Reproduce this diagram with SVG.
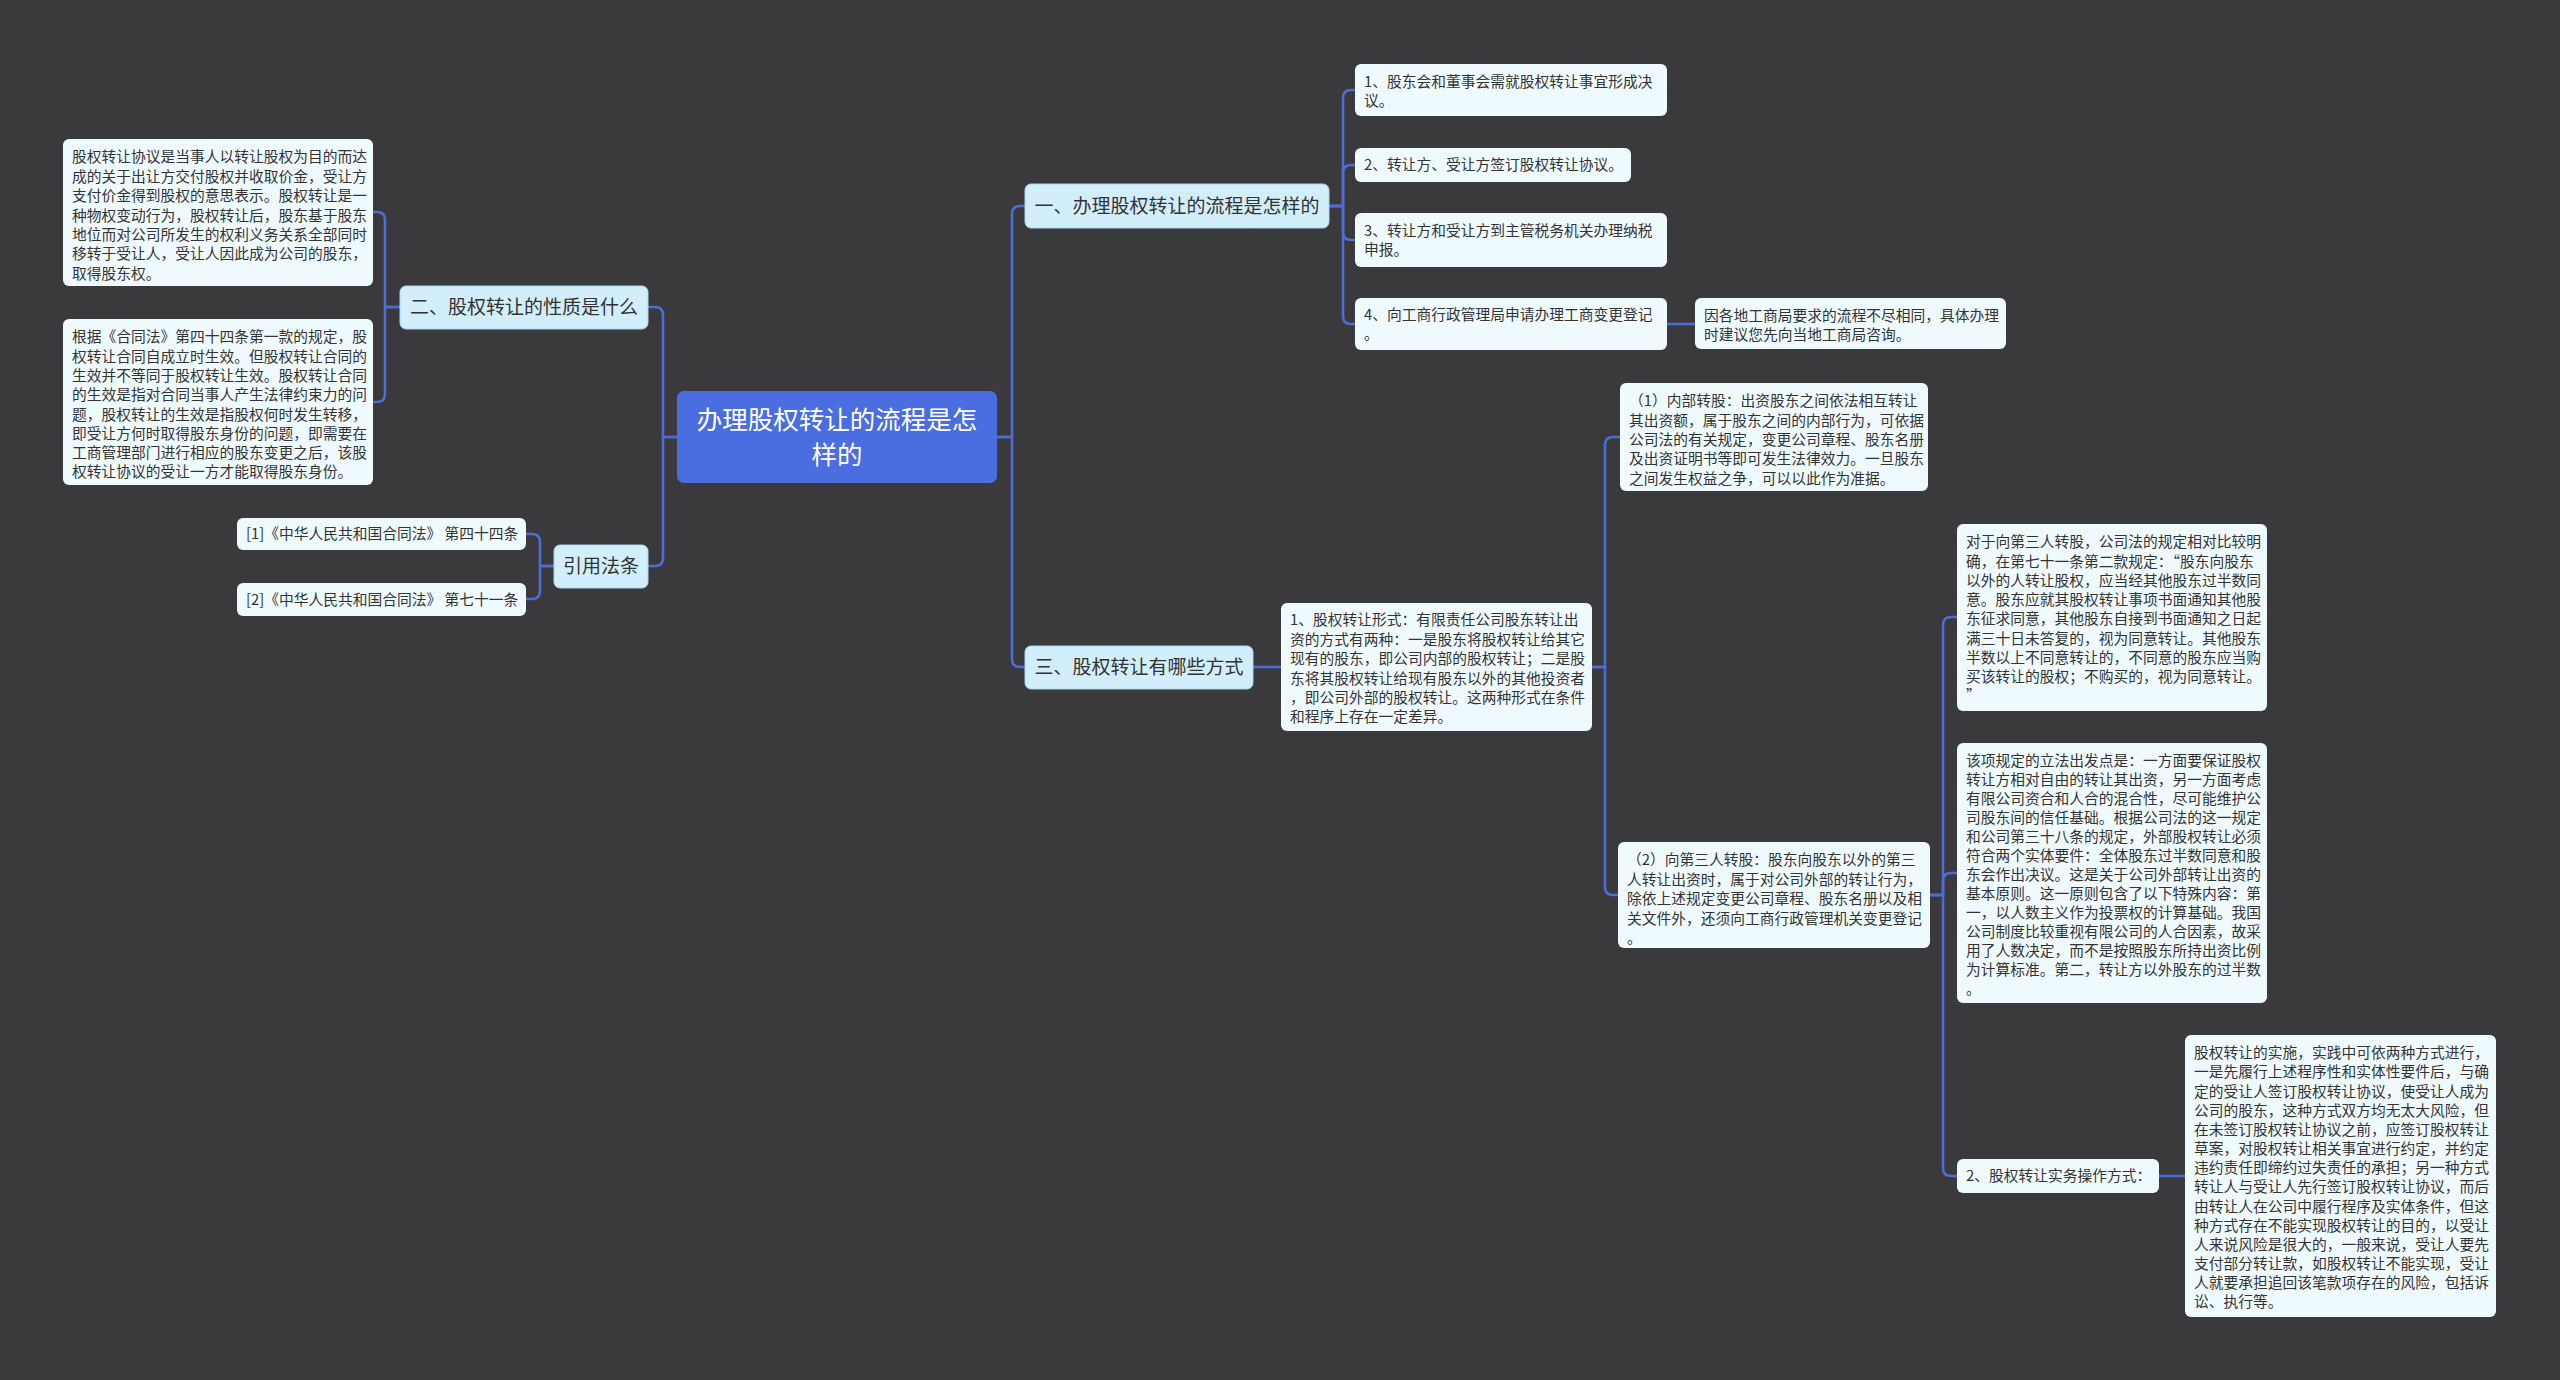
<svg xmlns="http://www.w3.org/2000/svg" width="2560" height="1380" viewBox="0 0 2560 1380">
<style>
text{font-family:"Noto Sans CJK SC","Noto Sans",sans-serif;fill:#333333;}
.leaf{fill:#effaff;}
.l1{fill:#d2eefb;stroke:#a6d8f2;stroke-width:1;}
.root{fill:#4a6ddf;}
.t15{font-size:14.75px;}
.t19{font-size:19px;text-anchor:middle;}
.troot{font-size:25.5px;text-anchor:middle;fill:#ffffff;}
#connectors path{fill:none;stroke:#4f6bd6;stroke-width:2.6;}
</style>
<rect x="0" y="0" width="2560" height="1380" fill="#3a393b"/>
<g id="connectors">
<path d="M677,437 H663 V315 Q663,307 655,307 H648"/>
<path d="M677,437 H663 V558 Q663,566 655,566 H648"/>
<path d="M400,307 H385 V220 Q385,212 377,212 H373"/>
<path d="M400,307 H385 V394 Q385,402 377,402 H373"/>
<path d="M554,566 H540 V542 Q540,534 532,534 H526"/>
<path d="M554,566 H540 V591 Q540,599 532,599 H526"/>
<path d="M997,437 H1012 V214 Q1012,206 1020,206 H1025"/>
<path d="M997,437 H1012 V659 Q1012,667 1020,667 H1025"/>
<path d="M1329,206 H1343 V98 Q1343,90 1351,90 H1355"/>
<path d="M1329,206 H1343 V173 Q1343,165 1351,165 H1355"/>
<path d="M1329,206 H1343 V232 Q1343,240 1351,240 H1355"/>
<path d="M1329,206 H1343 V316 Q1343,324 1351,324 H1355"/>
<path d="M1667,324 H1695"/>
<path d="M1253,667 H1281"/>
<path d="M1592,667 H1605 V445 Q1605,437 1613,437 H1620"/>
<path d="M1592,667 H1605 V887 Q1605,895 1613,895 H1618"/>
<path d="M1930,895 H1943 V625 Q1943,617 1951,617 H1957"/>
<path d="M1930,895 H1943 V881 Q1943,873 1951,873 H1957"/>
<path d="M1930,895 H1943 V1168 Q1943,1176 1951,1176 H1957"/>
<path d="M2159,1176 H2185"/>
</g>
<g id="root">
<rect class="root" x="677" y="391" width="320" height="92" rx="7"/>
<text class="troot" x="837" y="429">办理股权转让的流程是怎</text>
<text class="troot" x="837" y="464">样的</text>
</g>
<g id="n2">
<rect class="l1" x="400" y="286" width="248" height="43" rx="6"/>
<text class="t19" x="524" y="314">二、股权转让的性质是什么</text>
</g>
<g id="n2a">
<rect class="leaf" x="63" y="139" width="310" height="147" rx="6"/>
<text class="t15" y="162.3"><tspan x="72">股权转让协议是当事人以转让股权为目的而达</tspan><tspan x="72" dy="19.4">成的关于出让方交付股权并收取价金，受让方</tspan><tspan x="72" dy="19.4">支付价金得到股权的意思表示。股权转让是一</tspan><tspan x="72" dy="19.4">种物权变动行为，股权转让后，股东基于股东</tspan><tspan x="72" dy="19.4">地位而对公司所发生的权利义务关系全部同时</tspan><tspan x="72" dy="19.4">移转于受让人，受让人因此成为公司的股东，</tspan><tspan x="72" dy="19.4">取得股东权。</tspan></text>
</g>
<g id="n2b">
<rect class="leaf" x="63" y="319" width="310" height="166" rx="6"/>
<text class="t15" y="342.3"><tspan x="72">根据《合同法》第四十四条第一款的规定，股</tspan><tspan x="72" dy="19.3">权转让合同自成立时生效。但股权转让合同的</tspan><tspan x="72" dy="19.3">生效并不等同于股权转让生效。股权转让合同</tspan><tspan x="72" dy="19.3">的生效是指对合同当事人产生法律约束力的问</tspan><tspan x="72" dy="19.3">题，股权转让的生效是指股权何时发生转移，</tspan><tspan x="72" dy="19.3">即受让方何时取得股东身份的问题，即需要在</tspan><tspan x="72" dy="19.3">工商管理部门进行相应的股东变更之后，该股</tspan><tspan x="72" dy="19.3">权转让协议的受让一方才能取得股东身份。</tspan></text>
</g>
<g id="nref">
<rect class="l1" x="554" y="545" width="94" height="43" rx="6"/>
<text class="t19" x="601" y="573">引用法条</text>
</g>
<g id="ref1">
<rect class="leaf" x="237" y="518" width="289" height="32" rx="6"/>
<text class="t15" x="246" y="539.3">[1]《中华人民共和国合同法》 第四十四条</text>
</g>
<g id="ref2">
<rect class="leaf" x="237" y="583" width="289" height="33" rx="6"/>
<text class="t15" x="246" y="604.8">[2]《中华人民共和国合同法》 第七十一条</text>
</g>
<g id="n1">
<rect class="l1" x="1025" y="184" width="304" height="44" rx="6"/>
<text class="t19" x="1177" y="212.7">一、办理股权转让的流程是怎样的</text>
</g>
<g id="n1a">
<rect class="leaf" x="1355" y="64" width="312" height="52" rx="6"/>
<text class="t15" y="87.3"><tspan x="1364">1、股东会和董事会需就股权转让事宜形成决</tspan><tspan x="1364" dy="19">议。</tspan></text>
</g>
<g id="n1b">
<rect class="leaf" x="1355" y="148" width="276" height="34" rx="6"/>
<text class="t15" x="1364" y="170.3">2、转让方、受让方签订股权转让协议。</text>
</g>
<g id="n1c">
<rect class="leaf" x="1355" y="213" width="312" height="54" rx="6"/>
<text class="t15" y="236.3"><tspan x="1364">3、转让方和受让方到主管税务机关办理纳税</tspan><tspan x="1364" dy="19">申报。</tspan></text>
</g>
<g id="n1d">
<rect class="leaf" x="1355" y="298" width="312" height="52" rx="6"/>
<text class="t15" y="320.3"><tspan x="1364">4、向工商行政管理局申请办理工商变更登记</tspan><tspan x="1364" dy="19">。</tspan></text>
</g>
<g id="n1e">
<rect class="leaf" x="1695" y="298" width="311" height="51" rx="6"/>
<text class="t15" y="321.3"><tspan x="1704">因各地工商局要求的流程不尽相同，具体办理</tspan><tspan x="1704" dy="19">时建议您先向当地工商局咨询。</tspan></text>
</g>
<g id="n3">
<rect class="l1" x="1025" y="646" width="228" height="43" rx="6"/>
<text class="t19" x="1139" y="674">三、股权转让有哪些方式</text>
</g>
<g id="n3a">
<rect class="leaf" x="1281" y="603" width="311" height="128" rx="6"/>
<text class="t15" y="625.3"><tspan x="1290">1、股权转让形式：有限责任公司股东转让出</tspan><tspan x="1290" dy="19.4">资的方式有两种：一是股东将股权转让给其它</tspan><tspan x="1290" dy="19.4">现有的股东，即公司内部的股权转让；二是股</tspan><tspan x="1290" dy="19.4">东将其股权转让给现有股东以外的其他投资者</tspan><tspan x="1290" dy="19.4">，即公司外部的股权转让。这两种形式在条件</tspan><tspan x="1290" dy="19.4">和程序上存在一定差异。</tspan></text>
</g>
<g id="n3b">
<rect class="leaf" x="1620" y="383" width="308" height="108" rx="6"/>
<text class="t15" y="406.3"><tspan x="1629">（1）内部转股：出资股东之间依法相互转让</tspan><tspan x="1629" dy="19.3">其出资额，属于股东之间的内部行为，可依据</tspan><tspan x="1629" dy="19.3">公司法的有关规定，变更公司章程、股东名册</tspan><tspan x="1629" dy="19.3">及出资证明书等即可发生法律效力。一旦股东</tspan><tspan x="1629" dy="19.3">之间发生权益之争，可以以此作为准据。</tspan></text>
</g>
<g id="n3c">
<rect class="leaf" x="1618" y="842" width="312" height="106" rx="6"/>
<text class="t15" y="865.3"><tspan x="1627">（2）向第三人转股：股东向股东以外的第三</tspan><tspan x="1627" dy="19.4">人转让出资时，属于对公司外部的转让行为，</tspan><tspan x="1627" dy="19.4">除依上述规定变更公司章程、股东名册以及相</tspan><tspan x="1627" dy="19.4">关文件外，还须向工商行政管理机关变更登记</tspan><tspan x="1627" dy="19.4">。</tspan></text>
</g>
<g id="n3d">
<rect class="leaf" x="1957" y="524" width="310" height="187" rx="6"/>
<text class="t15" y="547.3"><tspan x="1966">对于向第三人转股，公司法的规定相对比较明</tspan><tspan x="1966" dy="19.27">确，在第七十一条第二款规定：“股东向股东</tspan><tspan x="1966" dy="19.27">以外的人转让股权，应当经其他股东过半数同</tspan><tspan x="1966" dy="19.27">意。股东应就其股权转让事项书面通知其他股</tspan><tspan x="1966" dy="19.27">东征求同意，其他股东自接到书面通知之日起</tspan><tspan x="1966" dy="19.27">满三十日未答复的，视为同意转让。其他股东</tspan><tspan x="1966" dy="19.27">半数以上不同意转让的，不同意的股东应当购</tspan><tspan x="1966" dy="19.27">买该转让的股权；不购买的，视为同意转让。</tspan><tspan x="1966" dy="19.27">”</tspan></text>
</g>
<g id="n3e">
<rect class="leaf" x="1957" y="743" width="310" height="260" rx="6"/>
<text class="t15" y="766.3"><tspan x="1966">该项规定的立法出发点是：一方面要保证股权</tspan><tspan x="1966" dy="19">转让方相对自由的转让其出资，另一方面考虑</tspan><tspan x="1966" dy="19">有限公司资合和人合的混合性，尽可能维护公</tspan><tspan x="1966" dy="19">司股东间的信任基础。根据公司法的这一规定</tspan><tspan x="1966" dy="19">和公司第三十八条的规定，外部股权转让必须</tspan><tspan x="1966" dy="19">符合两个实体要件：全体股东过半数同意和股</tspan><tspan x="1966" dy="19">东会作出决议。这是关于公司外部转让出资的</tspan><tspan x="1966" dy="19">基本原则。这一原则包含了以下特殊内容：第</tspan><tspan x="1966" dy="19">一，以人数主义作为投票权的计算基础。我国</tspan><tspan x="1966" dy="19">公司制度比较重视有限公司的人合因素，故采</tspan><tspan x="1966" dy="19">用了人数决定，而不是按照股东所持出资比例</tspan><tspan x="1966" dy="19">为计算标准。第二，转让方以外股东的过半数</tspan><tspan x="1966" dy="19">。</tspan></text>
</g>
<g id="n3f">
<rect class="leaf" x="1957" y="1159" width="202" height="34" rx="6"/>
<text class="t15" x="1966" y="1181.3">2、股权转让实务操作方式：</text>
</g>
<g id="n3g">
<rect class="leaf" x="2185" y="1035" width="311" height="282" rx="6"/>
<text class="t15" y="1058.3"><tspan x="2194">股权转让的实施，实践中可依两种方式进行，</tspan><tspan x="2194" dy="19.15">一是先履行上述程序性和实体性要件后，与确</tspan><tspan x="2194" dy="19.15">定的受让人签订股权转让协议，使受让人成为</tspan><tspan x="2194" dy="19.15">公司的股东，这种方式双方均无太大风险，但</tspan><tspan x="2194" dy="19.15">在未签订股权转让协议之前，应签订股权转让</tspan><tspan x="2194" dy="19.15">草案，对股权转让相关事宜进行约定，并约定</tspan><tspan x="2194" dy="19.15">违约责任即缔约过失责任的承担；另一种方式</tspan><tspan x="2194" dy="19.15">转让人与受让人先行签订股权转让协议，而后</tspan><tspan x="2194" dy="19.15">由转让人在公司中履行程序及实体条件，但这</tspan><tspan x="2194" dy="19.15">种方式存在不能实现股权转让的目的，以受让</tspan><tspan x="2194" dy="19.15">人来说风险是很大的，一般来说，受让人要先</tspan><tspan x="2194" dy="19.15">支付部分转让款，如股权转让不能实现，受让</tspan><tspan x="2194" dy="19.15">人就要承担追回该笔款项存在的风险，包括诉</tspan><tspan x="2194" dy="19.15">讼、执行等。</tspan></text>
</g>
</svg>
